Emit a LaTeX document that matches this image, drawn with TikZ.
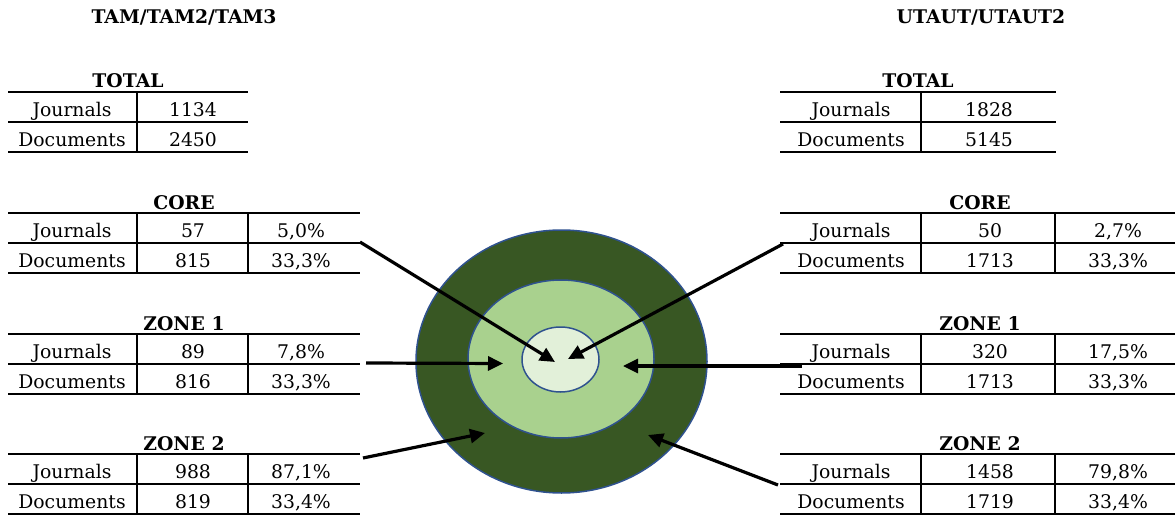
\documentclass[tikz,border=0pt]{standalone}
\usepackage{fontspec}
\setmainfont{DejaVu Serif}
\usetikzlibrary{arrows.meta}

\definecolor{ringdark}{HTML}{385723}
\definecolor{ringmid}{HTML}{A9D18E}
\definecolor{ringlight}{HTML}{E2F0D9}
\definecolor{ringedge}{HTML}{2F528F}

\tikzset{
  cell/.style={anchor=base, inner sep=0pt, font=\fontsize{18.8}{22}\selectfont},
  head/.style={cell, font=\fontsize{18.8}{22}\selectfont\bfseries},
  rule/.style={line width=1.4pt},
  divider/.style={line width=1.6pt},
  ring/.style={draw=ringedge, line width=1.5pt},
  pointer/.style={line width=3.2pt, -{Triangle[length=15pt,width=14pt]}}
}

% horizontal rules and column dividers of a two-row table
% #1 left x, #2 right x, #3 top y, #4 list of divider x positions
\newcommand\tablegrid[4]{%
  \draw[rule] (#1,#3) -- (#2,#3) (#1,#3+30) -- (#2,#3+30) (#1,#3+60) -- (#2,#3+60);
  \foreach \dx in {#4} {\draw[divider] (\dx,#3) -- (\dx,#3+60);}
}

\begin{document}
\begin{tikzpicture}[x=1pt,y=-1pt]
\useasboundingbox (0,0) rectangle (1175,516);

% ---------------- headings
\node[head] (titleL) at (184,24) {TAM/TAM2/TAM3};
\node[head] (titleR) at (981,24) {UTAUT/UTAUT2};

% ---------------- left tables
\tablegrid{8}{248}{92}{137}
\node[head] (totL-h) at (128,88) {TOTAL};
\node[cell] (totL-j) at (72,116.5) {Journals};
\node[cell] (totL-jn) at (193,116.5) {1134};
\node[cell] (totL-d) at (72,146.5) {Documents};
\node[cell] (totL-dn) at (193,146.5) {2450};

\tablegrid{8}{360}{213}{137,248}
\node[head] (coreL-h) at (184,209) {CORE};
\node[cell] (coreL-j) at (72,237.5) {Journals};
\node[cell] (coreL-jn) at (193,237.5) {57};
\node[cell] (coreL-jp) at (301,237.5) {5,0\%};
\node[cell] (coreL-d) at (72,267.5) {Documents};
\node[cell] (coreL-dn) at (193,267.5) {815};
\node[cell] (coreL-dp) at (301,267.5) {33,3\%};

\tablegrid{8}{360}{334}{137,248}
\node[head] (z1L-h) at (184,330) {ZONE 1};
\node[cell] (z1L-j) at (72,358.5) {Journals};
\node[cell] (z1L-jn) at (193,358.5) {89};
\node[cell] (z1L-jp) at (301,358.5) {7,8\%};
\node[cell] (z1L-d) at (72,388.5) {Documents};
\node[cell] (z1L-dn) at (193,388.5) {816};
\node[cell] (z1L-dp) at (301,388.5) {33,3\%};

\tablegrid{8}{360}{454}{137,248}
\node[head] (z2L-h) at (184,450) {ZONE 2};
\node[cell] (z2L-j) at (72,478.5) {Journals};
\node[cell] (z2L-jn) at (193,478.5) {988};
\node[cell] (z2L-jp) at (301,478.5) {87,1\%};
\node[cell] (z2L-d) at (72,508.5) {Documents};
\node[cell] (z2L-dn) at (193,508.5) {819};
\node[cell] (z2L-dp) at (301,508.5) {33,4\%};

% ---------------- right tables
\tablegrid{780}{1056}{92}{921}
\node[head] (totR-h) at (918,88) {TOTAL};
\node[cell] (totR-j) at (851,116.5) {Journals};
\node[cell] (totR-jn) at (989,116.5) {1828};
\node[cell] (totR-d) at (851,146.5) {Documents};
\node[cell] (totR-dn) at (989,146.5) {5145};

\tablegrid{780}{1175}{213}{921,1055}
\node[head] (coreR-h) at (980,209) {CORE};
\node[cell] (coreR-j) at (851,237.5) {Journals};
\node[cell] (coreR-jn) at (990,237.5) {50};
\node[cell] (coreR-jp) at (1118,237.5) {2,7\%};
\node[cell] (coreR-d) at (851,267.5) {Documents};
\node[cell] (coreR-dn) at (990,267.5) {1713};
\node[cell] (coreR-dp) at (1118,267.5) {33,3\%};

\tablegrid{780}{1175}{334}{921,1055}
\node[head] (z1R-h) at (980,330) {ZONE 1};
\node[cell] (z1R-j) at (851,358.5) {Journals};
\node[cell] (z1R-jn) at (990,358.5) {320};
\node[cell] (z1R-jp) at (1118,358.5) {17,5\%};
\node[cell] (z1R-d) at (851,388.5) {Documents};
\node[cell] (z1R-dn) at (990,388.5) {1713};
\node[cell] (z1R-dp) at (1118,388.5) {33,3\%};

\tablegrid{780}{1175}{454}{921,1055}
\node[head] (z2R-h) at (980,450) {ZONE 2};
\node[cell] (z2R-j) at (851,478.5) {Journals};
\node[cell] (z2R-jn) at (990,478.5) {1458};
\node[cell] (z2R-jp) at (1118,478.5) {79,8\%};
\node[cell] (z2R-d) at (851,508.5) {Documents};
\node[cell] (z2R-dn) at (990,508.5) {1719};
\node[cell] (z2R-dp) at (1118,508.5) {33,4\%};

% ---------------- concentric zones
\coordinate (zone2c) at (561.5,361.5);
\coordinate (zone1c) at (561,359);
\coordinate (corec) at (560.5,359.5);
\draw[ring, fill=ringdark] (zone2c) ellipse [x radius=145.5pt, y radius=131.5pt];
\draw[ring, fill=ringmid] (zone1c) ellipse [x radius=93pt, y radius=79pt];
\draw[ring, fill=ringlight] (corec) ellipse [x radius=38.5pt, y radius=32.5pt];

% ---------------- arrow anchors
\coordinate (coreL-out) at (360,242);
\coordinate (coreL-in) at (555,362);
\coordinate (coreR-out) at (783,244);
\coordinate (coreR-in) at (568,359);
\coordinate (z1L-out) at (366,363);
\coordinate (z1L-in) at (503,363.5);
\coordinate (z1R-out) at (802,366);
\coordinate (z1R-in) at (623,366);
\coordinate (z2L-out) at (363,458);
\coordinate (z2L-in) at (485,433);
\coordinate (z2R-out) at (778,485);
\coordinate (z2R-in) at (648,435);

\draw[pointer] (coreL-out) -- (coreL-in);
\draw[pointer] (coreR-out) -- (coreR-in);
\draw[pointer] (z1L-out) -- (z1L-in);
\draw[pointer] (z1R-out) -- (z1R-in);
\draw[pointer] (z2L-out) -- (z2L-in);
\draw[pointer] (z2R-out) -- (z2R-in);
\end{tikzpicture}
\end{document}
